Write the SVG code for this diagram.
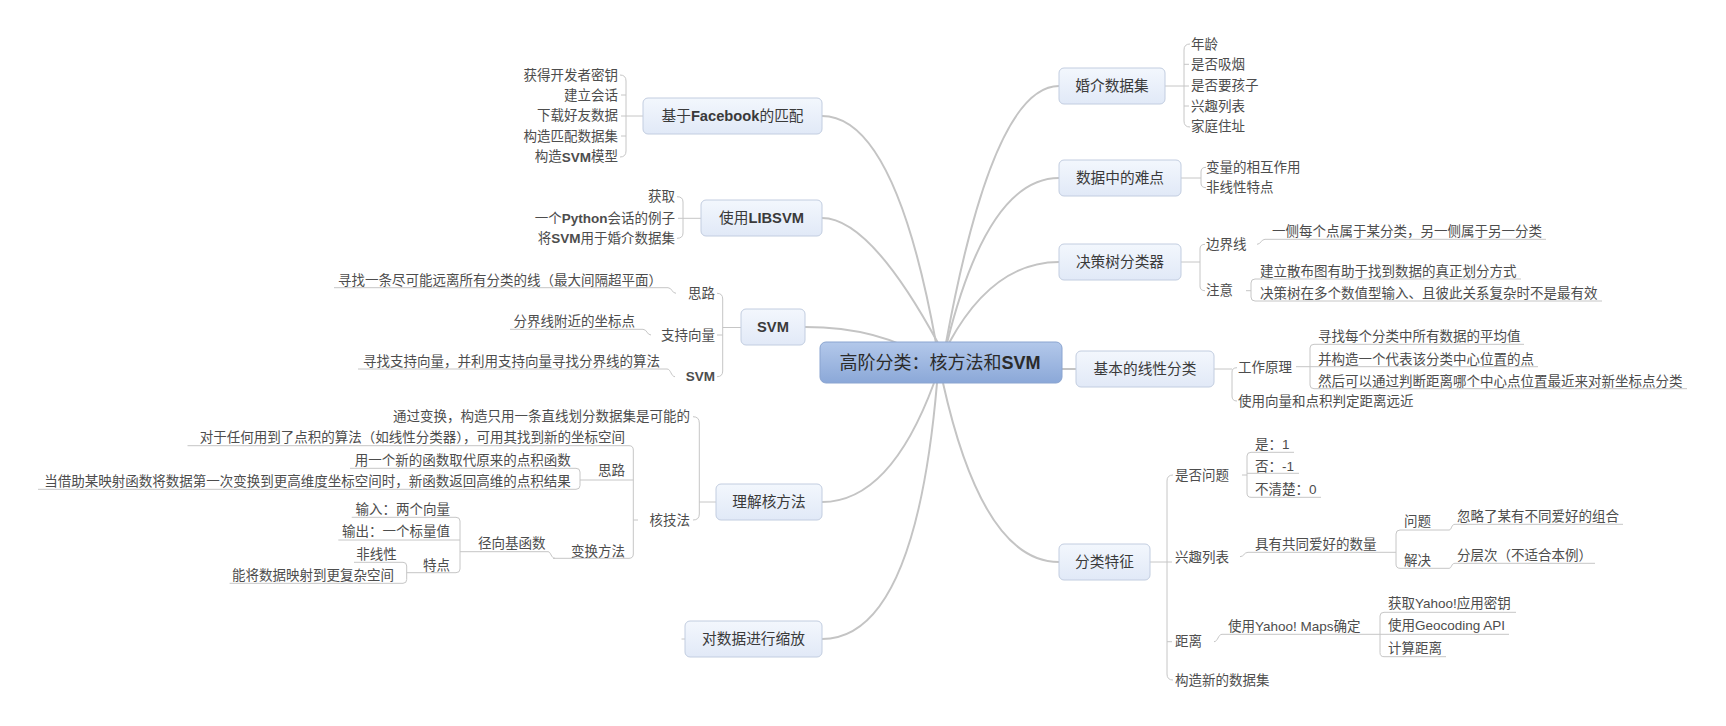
<svg xmlns="http://www.w3.org/2000/svg" width="1726" height="726" viewBox="0 0 1726 726">
<defs>
<linearGradient id="gNode" x1="0" y1="0" x2="0" y2="1">
<stop offset="0" stop-color="#f3f7fd"/>
<stop offset="1" stop-color="#e1e9f7"/>
</linearGradient>
<linearGradient id="gCentral" x1="0" y1="0" x2="0" y2="1">
<stop offset="0" stop-color="#b3c8ea"/>
<stop offset="1" stop-color="#8ba8d8"/>
</linearGradient>
<style>
.n rect{fill:url(#gNode);stroke:#c2cde0;stroke-width:1}
.c rect{fill:url(#gCentral);stroke:#8aa4d0;stroke-width:1}
text{font-family:"Liberation Sans","Noto Sans CJK SC",sans-serif;dominant-baseline:central}
.t{font-size:13.5px;fill:#4d4d4d}
.mt{font-size:14.7px;fill:#3a3a3a;text-anchor:middle}
.ct{font-size:18px;fill:#2b2b2b;text-anchor:middle}
.e{text-anchor:end}
.b{font-weight:bold}
.main{fill:none;stroke:#c4c4c4;stroke-width:2}
.sub{fill:none;stroke:#c6c6c6;stroke-width:1}
</style>
</defs>
<g id="connectors">
<path class="main" d="M946 343 Q993 86 1059 86"/>
<path class="main" d="M947 343 Q988 178 1059 178"/>
<path class="main" d="M949 343 Q993 262 1059 262"/>
<path class="main" d="M1040 369 L1076 369"/>
<path class="main" d="M943 383 Q983 562 1059 562"/>
<path class="main" d="M936 343 Q895 116 822 116"/>
<path class="main" d="M938 343 Q870 218 822 218"/>
<path class="main" d="M930 360 Q880 327 805 327"/>
<path class="main" d="M934 383 Q890 502 822 502"/>
<path class="main" d="M937 383 Q915 639 822 639"/>
<path class="sub" d="M681.5 639 L685 639"/>
<!-- right side -->
<path class="sub" d="M1165 86 L1189 86 M1190 44 Q1184 44 1184 50 L1184 121 Q1184 127 1190 127 M1184 64.3 L1189 64.3 M1184 106 L1189 106"/>
<path class="sub" d="M1181 178 L1201 178 M1206 167.3 Q1201 167.3 1201 172 L1201 183 Q1201 187.7 1206 187.7"/>
<path class="sub" d="M1181 262 L1200 262 M1205 244.3 Q1200 244.3 1200 249 L1200 286 Q1200 290.7 1205 290.7"/>
<path class="sub" d="M1257 244.3 C1261 244.3 1261 239.3 1265 239.3 L1546 239.3"/>
<path class="sub" d="M1246 290.7 L1251 290.7 M1521 279 L1255 279 Q1251 279 1251 283 L1251 297 Q1251 301 1255 301 L1602 301"/>
<path class="sub" d="M1214 369 L1232 369 M1237 367.7 Q1232 367.7 1232 372 L1232 396 Q1232 401 1237 401"/>
<path class="sub" d="M1296 366.7 L1538 366.7 M1524 344.3 L1314 344.3 Q1310 344.3 1310 348 L1310 385 Q1310 388.7 1314 388.7 L1687 388.7"/>
<path class="sub" d="M1150 562 L1172 562 M1173 475 Q1167 475 1167 481 L1167 674 Q1167 680 1173 680 M1167 641.7 L1172 641.7"/>
<path class="sub" d="M1242 475 L1247 475 M1294 452.3 L1251 452.3 Q1247 452.3 1247 456 L1247 493 Q1247 497.3 1251 497.3 L1321 497.3 M1247 473.3 L1299 473.3"/>
<path class="sub" d="M1240 556.7 C1244 556.7 1244 552.3 1248 552.3 L1396 552.3"/>
<path class="sub" d="M1449 530 L1400 530 Q1396 530 1396 534 L1396 564 Q1396 568.3 1400 568.3 L1449 568.3"/>
<path class="sub" d="M1449 530 C1452 530 1451 524.3 1455 524.3 L1623 524.3"/>
<path class="sub" d="M1449 568.3 C1452 568.3 1451 563.3 1455 563.3 L1595 563.3"/>
<path class="sub" d="M1214 641.7 C1218 641.7 1218 634.3 1222 634.3 L1509 634.3"/>
<path class="sub" d="M1516 612.3 L1384 612.3 Q1380 612.3 1380 616 L1380 652.5 Q1380 656.7 1384 656.7 L1446 656.7"/>
<!-- left side -->
<path class="sub" d="M643 116 L621 116 M620 75 Q626 75 626 81 L626 151 Q626 157 620 157 M626 95 L621 95 M626 136 L621 136"/>
<path class="sub" d="M701 218.3 L678 218.3 M677 196.7 Q683 196.7 683 202 L683 233 Q683 238.3 677 238.3"/>
<path class="sub" d="M741 327.5 L722.7 327.5 M717 293.3 Q722.7 293.3 722.7 299 L722.7 371 Q722.7 376.7 717 376.7 M722.7 335 L717 335"/>
<path class="sub" d="M334 287.7 L668 287.7 C672 287.7 672 293.3 676 293.3"/>
<path class="sub" d="M510 329.3 L643 329.3 C647 329.3 647 335 651 335"/>
<path class="sub" d="M358 369 L667 369 C671 369 671 376.7 675 376.7"/>
<path class="sub" d="M716 502 L699.3 502 M693 416.7 Q699.3 416.7 699.3 423 L699.3 514 Q699.3 520 693 520"/>
<path class="sub" d="M638 520 L633.3 520 M187.5 445.7 L629 445.7 Q633.3 445.7 633.3 450 L633.3 554 Q633.3 558.3 629 558.3 L553 558.3 M633.3 480 L580 480"/>
<path class="sub" d="M350 468.3 L576 468.3 Q580 468.3 580 472 L580 485.5 Q580 489.3 576 489.3 L38 489.3"/>
<path class="sub" d="M460 551.7 L548 551.7 C551 551.7 551 558.3 555 558.3"/>
<path class="sub" d="M351.7 517.3 L456 517.3 Q460 517.3 460 521 L460 569 Q460 572.7 456 572.7 L406.7 572.7 M460 540 L338.3 540"/>
<path class="sub" d="M354 562.3 L403 562.3 Q406.7 562.3 406.7 566 L406.7 579.5 Q406.7 583.3 403 583.3 L229.6 583.3"/>
</g>

<g id="central" class="c"><rect x="820" y="342" width="242" height="41" rx="6"/><text class="ct" x="940" y="363">高阶分类：核方法和<tspan class="b">SVM</tspan></text></g>

<g id="n-marriage" class="n"><rect x="1059" y="68" width="106" height="36" rx="5"/><text class="mt" x="1112" y="86">婚介数据集</text></g>
<g id="n-marriage-kids">
<text class="t" x="1191" y="44">年龄</text>
<text class="t" x="1191" y="64.3">是否吸烟</text>
<text class="t" x="1191" y="85.7">是否要孩子</text>
<text class="t" x="1191" y="106">兴趣列表</text>
<text class="t" x="1191" y="126.7">家庭住址</text>
</g>

<g id="n-difficult" class="n"><rect x="1059" y="160" width="122" height="36" rx="5"/><text class="mt" x="1120" y="178">数据中的难点</text></g>
<g id="n-difficult-kids">
<text class="t" x="1206" y="167.3">变量的相互作用</text>
<text class="t" x="1206" y="187.7">非线性特点</text>
</g>

<g id="n-tree" class="n"><rect x="1059" y="244" width="122" height="36" rx="5"/><text class="mt" x="1120" y="262">决策树分类器</text></g>
<g id="n-tree-kids">
<text class="t" x="1206" y="244.3">边界线</text>
<text class="t" x="1272" y="231.7">一侧每个点属于某分类，另一侧属于另一分类</text>
<text class="t" x="1206" y="290.7">注意</text>
<text class="t" x="1260" y="271">建立散布图有助于找到数据的真正划分方式</text>
<text class="t" x="1260" y="293.3">决策树在多个数值型输入、且彼此关系复杂时不是最有效</text>
</g>

<g id="n-linear" class="n"><rect x="1076" y="351" width="138" height="36" rx="5"/><text class="mt" x="1145" y="369">基本的线性分类</text></g>
<g id="n-linear-kids">
<text class="t" x="1238" y="367.7">工作原理</text>
<text class="t" x="1318" y="336">寻找每个分类中所有数据的平均值</text>
<text class="t" x="1318" y="359.3">并构造一个代表该分类中心位置的点</text>
<text class="t" x="1318" y="381">然后可以通过判断距离哪个中心点位置最近来对新坐标点分类</text>
<text class="t" x="1238" y="401">使用向量和点积判定距离远近</text>
</g>

<g id="n-features" class="n"><rect x="1059" y="544" width="91" height="36" rx="5"/><text class="mt" x="1104.5" y="562">分类特征</text></g>
<g id="n-features-kids">
<text class="t" x="1175" y="475">是否问题</text>
<text class="t" x="1255" y="444">是：1</text>
<text class="t" x="1255" y="466">否：-1</text>
<text class="t" x="1255" y="489">不清楚：0</text>
<text class="t" x="1175" y="557">兴趣列表</text>
<text class="t" x="1255" y="544">具有共同爱好的数量</text>
<text class="t" x="1404" y="521.7">问题</text>
<text class="t" x="1457" y="516.7">忽略了某有不同爱好的组合</text>
<text class="t" x="1404" y="560">解决</text>
<text class="t" x="1457" y="555">分层次（不适合本例）</text>
<text class="t" x="1175" y="641.7">距离</text>
<text class="t" x="1228" y="626.7">使用Yahoo! Maps确定</text>
<text class="t" x="1388" y="603.3">获取Yahoo!应用密钥</text>
<text class="t" x="1388" y="625.7">使用Geocoding API</text>
<text class="t" x="1388" y="648.3">计算距离</text>
<text class="t" x="1175" y="680">构造新的数据集</text>
</g>

<g id="n-facebook" class="n"><rect x="643" y="98" width="179" height="36" rx="5"/><text class="mt" x="732.5" y="116">基于<tspan class="b">Facebook</tspan>的匹配</text></g>
<g id="n-facebook-kids">
<text class="t e" x="618" y="75">获得开发者密钥</text>
<text class="t e" x="618" y="95">建立会话</text>
<text class="t e" x="618" y="115.3">下载好友数据</text>
<text class="t e" x="618" y="136">构造匹配数据集</text>
<text class="t e" x="618" y="156.7">构造<tspan class="b">SVM</tspan>模型</text>
</g>

<g id="n-libsvm" class="n"><rect x="701" y="200" width="121" height="36" rx="5"/><text class="mt" x="761.5" y="218">使用<tspan class="b">LIBSVM</tspan></text></g>
<g id="n-libsvm-kids">
<text class="t e" x="675" y="196.7">获取</text>
<text class="t e" x="675" y="218.3">一个<tspan class="b">Python</tspan>会话的例子</text>
<text class="t e" x="675" y="238.3">将<tspan class="b">SVM</tspan>用于婚介数据集</text>
</g>

<g id="n-svm" class="n"><rect x="741" y="309" width="64" height="36" rx="5"/><text class="mt b" x="773" y="327">SVM</text></g>
<g id="n-svm-kids">
<text class="t e" x="715" y="293.3">思路</text>
<text class="t e" x="662" y="280">寻找一条尽可能远离所有分类的线（最大间隔超平面）</text>
<text class="t e" x="715" y="335">支持向量</text>
<text class="t e" x="635" y="321.7">分界线附近的坐标点</text>
<text class="t e b" x="715" y="376.7">SVM</text>
<text class="t e" x="660" y="361.7">寻找支持向量，并利用支持向量寻找分界线的算法</text>
</g>

<g id="n-kernel" class="n"><rect x="716" y="484" width="106" height="36" rx="5"/><text class="mt" x="769" y="502">理解核方法</text></g>
<g id="n-kernel-kids">
<text class="t e" x="690" y="416.7">通过变换，构造只用一条直线划分数据集是可能的</text>
<text class="t e" x="690" y="520">核技法</text>
<text class="t e" x="625" y="437.7">对于任何用到了点积的算法（如线性分类器），可用其找到新的坐标空间</text>
<text class="t e" x="625" y="470">思路</text>
<text class="t e" x="570.7" y="460">用一个新的函数取代原来的点积函数</text>
<text class="t e" x="570.7" y="481.7">当借助某映射函数将数据第一次变换到更高维度坐标空间时，新函数返回高维的点积结果</text>
<text class="t e" x="625" y="551.7">变换方法</text>
<text class="t e" x="545.5" y="543.3">径向基函数</text>
<text class="t e" x="450" y="509.3">输入：两个向量</text>
<text class="t e" x="450" y="531.7">输出：一个标量值</text>
<text class="t e" x="450" y="565">特点</text>
<text class="t e" x="396.7" y="554">非线性</text>
<text class="t e" x="394" y="575">能将数据映射到更复杂空间</text>
</g>

<g id="n-scale" class="n"><rect x="685" y="621" width="137" height="36" rx="5"/><text class="mt" x="753.5" y="639">对数据进行缩放</text></g>
</svg>
